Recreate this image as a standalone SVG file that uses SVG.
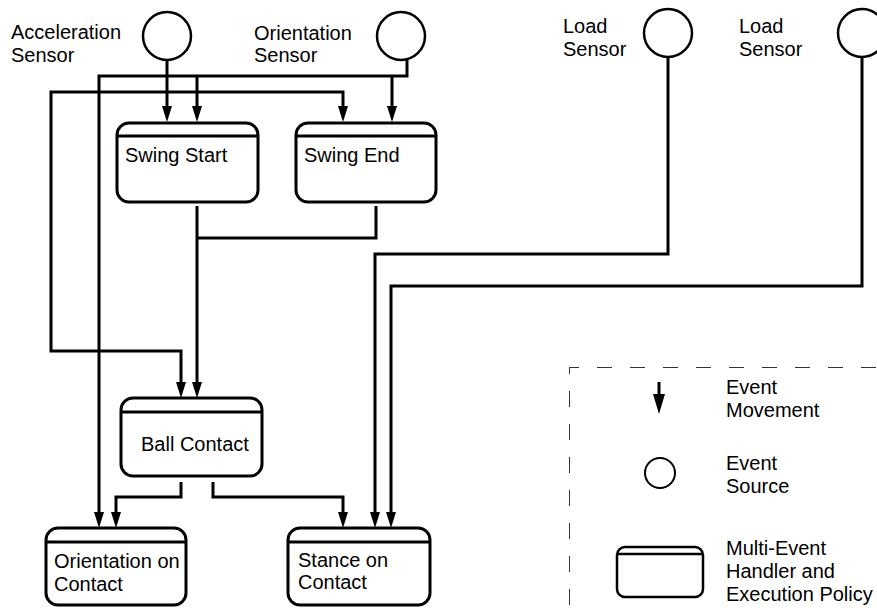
<svg xmlns="http://www.w3.org/2000/svg" width="877" height="610" viewBox="0 0 877 610">
  <style>
    .t { font-family: "Liberation Sans", Arial, sans-serif; font-size: 20px; fill: #000; }
    .box { fill: #fff; stroke: #000; stroke-width: 3; }
    .hdr { stroke: #000; stroke-width: 3; }
    .src { fill: #fff; stroke: #000; stroke-width: 2.5; }
    .c { fill: none; stroke: #000; stroke-width: 3; }
    .ca { fill: none; stroke: #000; stroke-width: 3; marker-end: url(#ah); }
  </style>
  <defs>
    <marker id="ah" markerUnits="userSpaceOnUse" viewBox="0 -5 16 10" refX="8" refY="0" markerWidth="16" markerHeight="10" orient="auto">
      <path d="M0,-5 L16,0 L0,5 z" fill="#000"/>
    </marker>
  </defs>
  <rect width="877" height="610" fill="#fff"/>

  <g id="connectors">
    <path class="ca" d="M167,60 V114"/>
    <path class="ca" d="M167,92 H343 V114"/>
    <path class="ca" d="M167,92 H51 V351 H181 V390"/>
    <path class="ca" d="M407,60 V76 H99 V520"/>
    <path class="ca" d="M392,76 V114"/>
    <path class="ca" d="M197,76 V114"/>
    <path class="ca" d="M197,206 V390"/>
    <path class="c" d="M376,206 V238 H197"/>
    <path class="ca" d="M668,58 V254 H375 V520"/>
    <path class="ca" d="M862,58 V286 H391 V520"/>
    <path class="ca" d="M181,482 V497 H116 V520"/>
    <path class="ca" d="M213,482 V497 H343 V520"/>
  </g>

  <g id="acceleration-sensor">
    <circle class="src" cx="167" cy="36" r="24"/>
    <text class="t" x="11" y="39">Acceleration</text>
    <text class="t" x="11" y="62">Sensor</text>
  </g>
  <g id="orientation-sensor">
    <circle class="src" cx="401" cy="36" r="24"/>
    <text class="t" x="254" y="40">Orientation</text>
    <text class="t" x="254" y="62">Sensor</text>
  </g>
  <g id="load-sensor-1">
    <circle class="src" cx="668" cy="33" r="24"/>
    <text class="t" x="563" y="33">Load</text>
    <text class="t" x="563" y="56">Sensor</text>
  </g>
  <g id="load-sensor-2">
    <circle class="src" cx="862" cy="33" r="24"/>
    <text class="t" x="739" y="33">Load</text>
    <text class="t" x="739" y="56">Sensor</text>
  </g>

  <g id="swing-start">
    <rect class="box" x="117" y="123" width="141" height="79" rx="12"/>
    <line class="hdr" x1="117" y1="136" x2="258" y2="136"/>
    <text class="t" x="125" y="162">Swing Start</text>
  </g>
  <g id="swing-end">
    <rect class="box" x="296" y="123" width="140" height="79" rx="12"/>
    <line class="hdr" x1="296" y1="136" x2="436" y2="136"/>
    <text class="t" x="304" y="162">Swing End</text>
  </g>
  <g id="ball-contact">
    <rect class="box" x="121" y="398" width="141" height="78" rx="12"/>
    <line class="hdr" x1="121" y1="412" x2="262" y2="412"/>
    <text class="t" x="141" y="451">Ball Contact</text>
  </g>
  <g id="orientation-on-contact">
    <rect class="box" x="46" y="528" width="140" height="77" rx="12"/>
    <line class="hdr" x1="46" y1="542" x2="186" y2="542"/>
    <text class="t" x="54" y="568">Orientation on</text>
    <text class="t" x="54" y="591">Contact</text>
  </g>
  <g id="stance-on-contact">
    <rect class="box" x="288" y="528" width="142" height="77" rx="12"/>
    <line class="hdr" x1="288" y1="542" x2="430" y2="542"/>
    <text class="t" x="298" y="567">Stance on</text>
    <text class="t" x="298" y="589">Contact</text>
  </g>

  <g id="legend">
    <line x1="569" y1="367.5" x2="877" y2="367.5" stroke="#333" stroke-width="1" stroke-dasharray="15 18" stroke-dashoffset="5"/>
    <line x1="569.5" y1="367" x2="569.5" y2="610" stroke="#333" stroke-width="1" stroke-dasharray="16 17" stroke-dashoffset="9"/>
    <line x1="659" y1="382" x2="659" y2="398" stroke="#000" stroke-width="3"/>
    <polygon points="653,394 665,394 659,414" fill="#000"/>
    <text class="t" x="726" y="394">Event</text>
    <text class="t" x="726" y="417">Movement</text>
    <circle cx="660" cy="473" r="15" fill="#fff" stroke="#000" stroke-width="2"/>
    <text class="t" x="726" y="470">Event</text>
    <text class="t" x="726" y="493">Source</text>
    <rect x="617" y="547" width="86" height="50" rx="8" fill="#fff" stroke="#000" stroke-width="2.5"/>
    <line x1="617" y1="554" x2="703" y2="554" stroke="#000" stroke-width="2.5"/>
    <text class="t" x="726" y="555">Multi-Event</text>
    <text class="t" x="726" y="578">Handler and</text>
    <text class="t" x="726" y="601">Execution Policy</text>
  </g>
</svg>
